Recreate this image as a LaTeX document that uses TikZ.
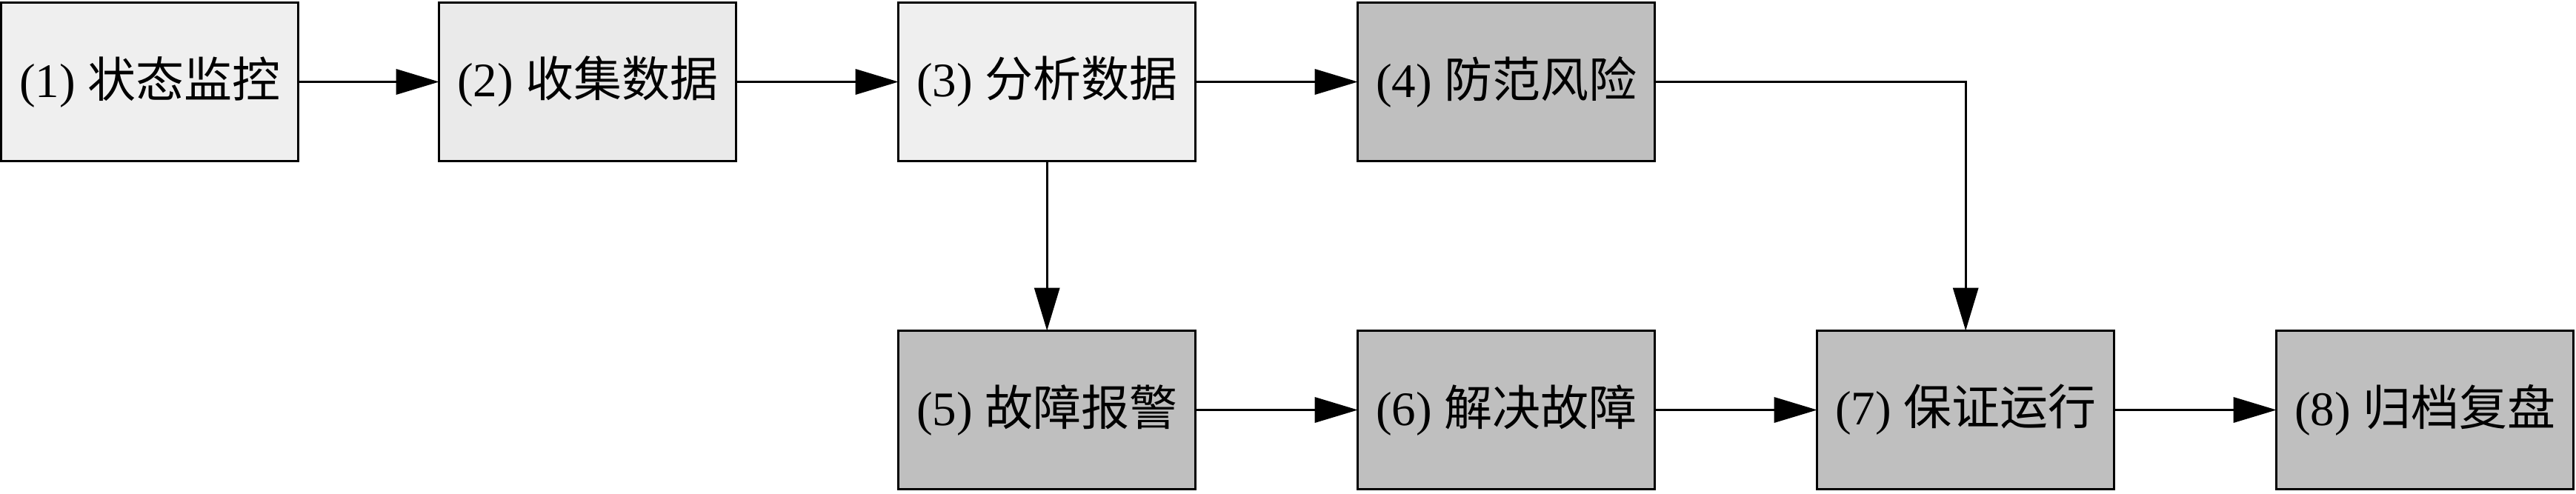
\documentclass[tikz,border=0pt]{standalone}
\usepackage{fontspec}
\setmainfont{Liberation Serif}
\newfontfamily\cjk{Noto Sans CJK SC}
\usetikzlibrary{positioning, arrows.meta}
\definecolor{lightbox}{HTML}{EFEFEF}
\definecolor{midbox}{HTML}{EAEAEA}
\definecolor{darkbox}{HTML}{BFBFBF}

\begin{document}
\begin{tikzpicture}[node distance=2.19cm, line width=0.95pt,
	>={Triangle[length=5.8mm,width=3.4mm]},
	box/.style={draw, minimum width=4.01cm, minimum height=2.14cm, inner sep=0pt,
		outer sep=0pt, font=\fontsize{18.5}{22}\selectfont}]
			\useasboundingbox (0,0) rectangle (34.77,6.66);
			\node[box, fill=lightbox] (s1) at (2.022,5.555) {(1) {\cjk 状态监控}};
			\node[box, fill=midbox, right=1.9cm of s1] (s2) {(2) {\cjk 收集数据}};
			\node[box, fill=lightbox, right=of s2] (s3) {(3) {\cjk 分析数据}};
			\node[box, fill=darkbox, right=of s3] (s4) {(4) {\cjk 防范风险}};
			\node[box, fill=darkbox, below=2.29cm of s3] (s5) {(5) {\cjk 故障报警}};
			\node[box, fill=darkbox, right=of s5] (s6) {(6) {\cjk 解决故障}};
			\node[box, fill=darkbox, right=of s6] (s7) {(7) {\cjk 保证运行}};
			\node[box, fill=darkbox, right=of s7] (s8) {(8) {\cjk 归档复盘}};
			\draw[->] (s1) -- (s2);
			\draw[->] (s2) -- (s3);
			\draw[->] (s3) -- (s4);
			\draw[->] (s3) -- (s5);
			\draw[->] (s4.east) -| (s7.north);
			\draw[->] (s5) -- (s6);
			\draw[->] (s6) -- (s7);
			\draw[->] (s7) -- (s8);
		\end{tikzpicture}
\end{document}
